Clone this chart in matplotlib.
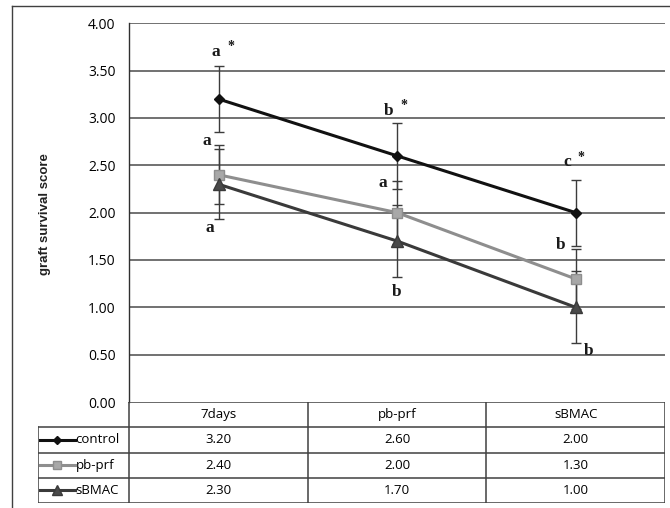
import numpy as np
import matplotlib
matplotlib.use("Agg")
import matplotlib.pyplot as plt
from matplotlib.lines import Line2D

# data
categories = ["7days", "pb-prf", "sBMAC"]
series_names = ["control", "pb-prf", "sBMAC"]
control = [3.20, 2.60, 2.00]
pbprf = [2.40, 2.00, 1.30]
sbmac = [2.30, 1.70, 1.00]
control_err = [0.35, 0.35, 0.35]
pbprf_err = [0.31, 0.33, 0.32]
sbmac_err = [0.37, 0.38, 0.38]

# significance letters: (x, y, text)
letters = [
    (-0.015, 3.70, "a"), (-0.065, 2.76, "a"), (-0.048, 1.84, "a"),
    (0.954, 3.07, "b"), (0.919, 2.31, "a"), (0.997, 1.16, "b"),
    (1.950, 2.53, "c"), (1.915, 1.66, "b"), (2.074, 0.54, "b"),
]
stars = [(0.067, 3.75), (1.038, 3.13), (2.027, 2.58)]

W, H = 670, 508
fig = plt.figure(figsize=(W / 100, H / 100), dpi=100)
fig.patch.set_facecolor("white")

def fx(px):
    return px / W

def fy(py):
    return 1 - py / H

# outer chart border (left and top only, rest is cropped)
fig.add_artist(Line2D([fx(12), fx(12)], [fy(6), fy(508)], transform=fig.transFigure,
                      color="#404040", lw=1))
fig.add_artist(Line2D([fx(12), fx(670)], [fy(6), fy(6)], transform=fig.transFigure,
                      color="#404040", lw=1))

styles = {
    "control": dict(color="#111111", marker="D", ms=5, mfc="#111111", mec="#111111"),
    "pb-prf": dict(color="#8e8e8e", marker="s", ms=7.5, mfc="#a8a8a8", mec="#8e8e8e"),
    "sBMAC": dict(color="#3a3a3a", marker="^", ms=8, mfc="#4a4a4a", mec="#3a3a3a"),
}
values = {"control": control, "pb-prf": pbprf, "sBMAC": sbmac}
errors = {"control": control_err, "pb-prf": pbprf_err, "sBMAC": sbmac_err}

# main plot
left, right, top, bottom = 129.3, 665, 23.3, 402
ax = fig.add_axes([fx(left), fy(bottom), fx(right - left), fy(top) - fy(bottom)])
x = np.arange(len(categories))
for name in series_names:
    ax.errorbar(x, values[name], yerr=errors[name], fmt="none", ecolor="#3c3c3c",
                elinewidth=1, capsize=3.3, capthick=1, zorder=2)
for name in series_names:
    ax.plot(x, values[name], lw=2.2, zorder=3, **styles[name])

ax.set_xlim(-0.5, 2.5)
ax.set_ylim(0, 4)
ax.set_yticks(np.arange(0, 4.01, 0.5))
ax.set_yticklabels([f"{v:.2f}" for v in np.arange(0, 4.01, 0.5)],
                   fontfamily="Open Sans", fontsize=10)
ax.tick_params(axis="y", length=0, pad=10)
ax.set_xticks([])
for yv in np.arange(0.5, 4.01, 0.5):
    ax.axhline(yv, color="#4a4a4a", lw=1.1, zorder=1)
for s in ["top", "right", "bottom"]:
    ax.spines[s].set_visible(False)
ax.spines["left"].set_color("#303030")
ax.spines["left"].set_linewidth(1)
ax.patch.set_alpha(0)

for lx, ly, t in letters:
    ax.text(lx, ly, t, ha="center", va="center", fontfamily="Liberation Serif",
            fontweight="bold", fontsize=12.5, color="#1a1a1a", zorder=5)
for sx, sy in stars:
    ax.text(sx, sy, "*", ha="center", va="center", fontfamily="Liberation Serif",
            fontweight="bold", fontsize=10, color="#1a1a1a", zorder=5)

fig.text(fx(45), fy(214), "graft survival score", rotation=90, ha="center", va="center",
         fontfamily="Liberation Sans", fontweight="bold", fontsize=9.5, color="#222222")

# data table under the plot
unit = (right - left) / 3
tleft = 37.7
xmin = -0.5 - (left - tleft) / unit
tax = fig.add_axes([fx(tleft), fy(503), fx(right - tleft), fy(402) - fy(503)])
tax.set_xlim(xmin, 2.5)
tax.set_ylim(4, 0)
tax.axis("off")
lc = dict(color="#404040", lw=1.1)
tax.plot([-0.5, 2.5], [0, 0], **lc)
for r in range(1, 5):
    tax.plot([xmin, 2.5], [r, r], **lc)
for cx in [-0.5, 0.5, 1.5, 2.5]:
    tax.plot([cx, cx], [0, 4], **lc)
tax.plot([xmin, xmin], [1, 4], **lc)
for i, c in enumerate(categories):
    tax.text(i, 0.5, c, ha="center", va="center", fontfamily="Open Sans", fontsize=9.5)
for r, name in enumerate(series_names, start=1):
    st = styles[name]
    k0 = xmin + 2.5 / unit
    k1 = xmin + 37 / unit
    tax.plot([k0, k1], [r + 0.5, r + 0.5], color=st["color"], lw=2.2)
    tax.plot([(k0 + k1) / 2], [r + 0.5], marker=st["marker"], ms=st["ms"] * 0.85,
             mfc=st["mfc"], mec=st["mec"], ls="none")
    tax.text(k1 + 1 / unit, r + 0.5, name, ha="left", va="center",
             fontfamily="Open Sans", fontsize=9.5)
    for i, v in enumerate(values[name]):
        tax.text(i, r + 0.5, f"{v:.2f}", ha="center", va="center",
                 fontfamily="Open Sans", fontsize=9.5)

fig.savefig("out.png", dpi=100)
